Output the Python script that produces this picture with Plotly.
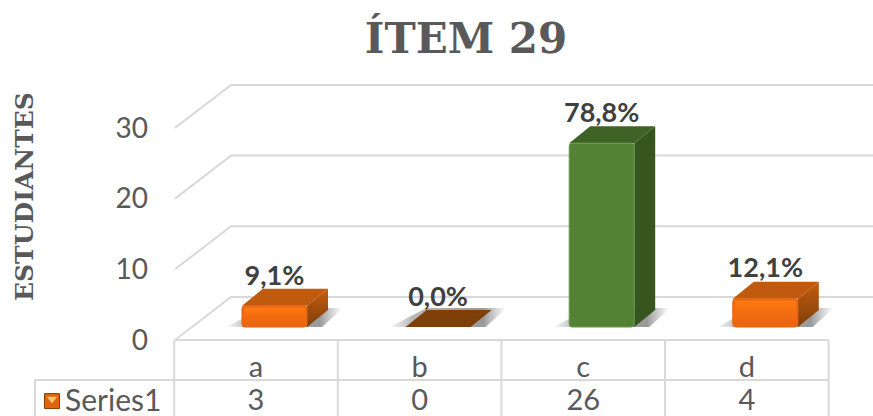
"""Item 29: student counts per answer option, drawn as an oblique 3D column chart with data table."""

import plotly.graph_objects as go

categories = ["a", "b", "c", "d"]
counts = [3, 0, 26, 4]
percent_labels = ["9,1%", "0,0%", "78,8%", "12,1%"]
y_ticks = [0, 10, 20, 30]
series_name = "Series1"
title_text = "ÍTEM 29"
y_title = "ESTUDIANTES"

WIDTH, HEIGHT = 873, 416
PX_X = 1 / 163.6  # category units per pixel
PX_Y = 1 / 7.07  # value units per pixel
X0, Y0 = 256, 340  # pixel position of category a / value 0 on the front plane

GRID = "#D9D9D9"
TEXT = "#595959"
ORANGE = dict(front="#F0690F", line="#E3640F", top="#C05A0E", side0="#C45C0E", side1="#7E3E0A",
              shine=[[0, "#E8640F"], [0.6, "#F56E10"], [1, "#FF7A14"]])
GREEN = dict(front="#548235", line="#6A9A48", top="#3F6327", side0="#37561F", side1="#37561F", shine=None)
FLAT = dict(front="#7F3F08", line="#7F3F08", top="#7F3F08", side0="#7F3F08", side1="#7F3F08", shine=None)
bar_styles = [ORANGE, FLAT, GREEN, ORANGE]

WALL_DX, WALL_DY = 56 * PX_X, 43 * PX_Y  # floor depth
BAR_DX, BAR_DY = 18.5 * PX_X, 13 * PX_Y  # bar front plane behind the table edge
DEPTH_X, DEPTH_Y = 21 * PX_X, 17 * PX_Y  # bar depth
BAR_W = 65 * PX_X
LEFT = -81 * PX_X  # left edge of the table body
ROW1 = -40 * PX_Y
ROW2 = -76 * PX_Y

fig = go.Figure()


def line(xs, ys):
    fig.add_trace(go.Scatter(x=xs, y=ys, mode="lines", hoverinfo="skip", cliponaxis=False,
                             line=dict(color=GRID, width=2)))


def poly(xs, ys, color, gradient=None, zorder=0):
    trace = dict(x=xs, y=ys, mode="lines", fill="toself", line=dict(width=0), hoverinfo="skip", zorder=zorder)
    if gradient:
        trace["fillgradient"] = gradient
    else:
        trace["fillcolor"] = color
    fig.add_trace(go.Scatter(**trace))


# back wall gridlines with their slanted floor return
for tick in y_ticks:
    line([LEFT, LEFT + WALL_DX, (WIDTH - X0) * PX_X], [tick, tick + WALL_DY, tick + WALL_DY])

# data table grid
line([LEFT, 3.5], [0, 0])
line([-221 * PX_X, 3.5], [ROW1, ROW1])
for i in range(5):
    line([i - 0.5, i - 0.5], [0, ROW2])
line([-221 * PX_X, -221 * PX_X], [ROW1, ROW2])

# bars, front face comes from a bar trace, top and side from polygons
xs = [i + BAR_DX for i in range(len(counts))]
for x, count, style in zip(xs, counts, bar_styles):
    l, r = x - BAR_W / 2, x + BAR_W / 2
    b = BAR_DY
    t = b + count
    shadow_y = b + DEPTH_Y + 2 * PX_Y
    poly([l - 16 * PX_X, r + 15 * PX_X, r + 36 * PX_X, l + DEPTH_X], [b, b, shadow_y, shadow_y], None,
         gradient=dict(type="horizontal", colorscale=[[0, "rgba(170,170,170,0)"], [0.2, "#B8B8B8"], [0.8, "#999999"], [1, "rgba(170,170,170,0)"]]))
    poly([l, l + DEPTH_X, r + DEPTH_X, r], [t, t + DEPTH_Y, t + DEPTH_Y, t], style["top"])
    if count:
        poly([r, r + DEPTH_X, r + DEPTH_X, r], [b, b + DEPTH_Y, t + DEPTH_Y, t], None,
             gradient=dict(type="vertical", colorscale=[[0, style["side1"]], [1, style["side0"]]]))

nonzero = [i for i, c in enumerate(counts) if c]
fig.add_trace(go.Bar(
    x=[xs[i] for i in nonzero], y=[counts[i] for i in nonzero], base=BAR_DY, width=BAR_W, zorder=1,
    marker=dict(color=[bar_styles[i]["front"] for i in nonzero], cornerradius=3,
                line=dict(color=[bar_styles[i]["line"] for i in nonzero], width=1)),
    hoverinfo="skip",
))

# brighter top on the orange front faces
for x, count, style in zip(xs, counts, bar_styles):
    if count and style["shine"]:
        l, r = x - BAR_W / 2 + 2 * PX_X, x + BAR_W / 2 - 2 * PX_X
        b, t = BAR_DY + 2 * PX_Y, BAR_DY + count - 2 * PX_Y
        poly([l, l, r, r], [b, t, t, b], None, zorder=2,
             gradient=dict(type="vertical", colorscale=style["shine"]))

# percentage labels above each column
fig.add_trace(go.Scatter(
    x=xs, y=[c + BAR_DY + 28 * PX_Y for c in counts], text=percent_labels, mode="text", zorder=3,
    textposition="middle center", hoverinfo="skip",
    textfont=dict(family="Lato", size=27, color="#404040", weight=700),
))

# data table values
row_y = (ROW1 + ROW2) / 2 - 5 * PX_Y
fig.add_trace(go.Scatter(
    x=list(range(len(counts))), y=[row_y] * len(counts), text=[str(c) for c in counts],
    mode="text", textposition="middle center", cliponaxis=False, hoverinfo="skip",
    textfont=dict(family="Lato", size=29, color=TEXT),
))

# legend key and series name
key_x = -204 * PX_X
key_y = (ROW1 + ROW2) / 2 - 3 * PX_Y
fig.add_trace(go.Scatter(x=[key_x], y=[key_y], mode="markers", hoverinfo="skip", cliponaxis=False,
                         marker=dict(symbol="square", size=15, color="#E0640F", line=dict(color="#8A420A", width=1))))
fig.add_trace(go.Scatter(x=[key_x], y=[key_y + 2 * PX_Y], mode="markers", hoverinfo="skip", cliponaxis=False,
                         marker=dict(symbol="triangle-down", size=9, color="#FFC36A")))
fig.add_trace(go.Scatter(x=[-191 * PX_X], y=[row_y], text=[series_name], mode="text", textposition="middle right",
                         cliponaxis=False, hoverinfo="skip", textfont=dict(family="Lato", size=30, color=TEXT)))

fig.update_layout(
    width=WIDTH, height=HEIGHT,
    margin=dict(l=0, r=0, t=0, b=0),
    paper_bgcolor="white", plot_bgcolor="white",
    showlegend=False,
    title=dict(text=title_text, x=466 / WIDTH, xanchor="center", y=1 - 38 / HEIGHT, yanchor="middle",
               font=dict(family="DejaVu Serif", size=42, color="#595959", weight=700)),
    annotations=[dict(
        text=y_title, textangle=-90, xref="paper", yref="paper", x=24 / WIDTH, y=1 - 197 / HEIGHT,
        xanchor="center", yanchor="middle", showarrow=False,
        font=dict(family="DejaVu Serif", size=25, color=TEXT, weight=700),
    )],
)
fig.update_xaxes(
    range=[-X0 * PX_X, (WIDTH - X0) * PX_X], domain=[0, 1], anchor="free", position=1 - 347 / HEIGHT,
    tickmode="array", tickvals=list(range(len(categories))), ticktext=categories,
    ticklen=0, showline=False, showgrid=False, zeroline=False,
    tickfont=dict(family="Lato", size=29, color=TEXT),
)
fig.update_yaxes(
    range=[(Y0 - HEIGHT) * PX_Y, Y0 * PX_Y], domain=[0, 1], anchor="free", position=148 / WIDTH,
    tickmode="array", tickvals=y_ticks, ticklen=0, showline=False, showgrid=False, zeroline=False,
    tickfont=dict(family="Lato", size=28, color=TEXT),
)

# the page's default body margin would push the chart off the window
fig.write_html("out.html", config=dict(displayModeBar=False), post_script="document.body.style.margin = '0';")
